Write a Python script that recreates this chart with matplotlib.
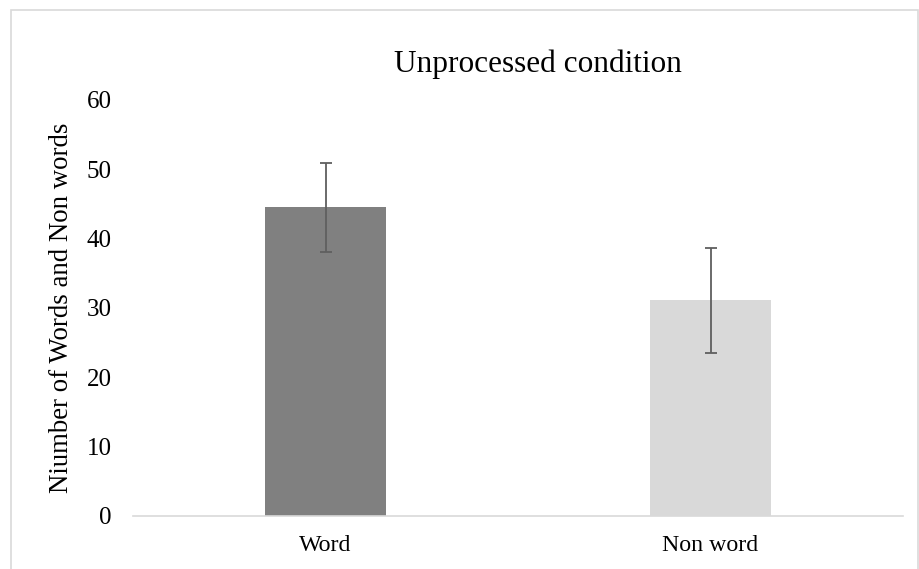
import matplotlib
matplotlib.use("Agg")
import matplotlib.pyplot as plt
from matplotlib.patches import Rectangle

categories = ["Word", "Non word"]
means = [44.5, 31.1]
errors = [6.4, 7.6]
bar_colors = ["#808080", "#d9d9d9"]
y_ticks = [0, 10, 20, 30, 40, 50, 60]

plt.rcParams["font.family"] = ["Liberation Serif", "DejaVu Serif"]

fig = plt.figure(figsize=(9.19, 5.69), dpi=100)
ax = fig.add_axes([133 / 919, 1 - 515.5 / 569, 770 / 919, 415.5 / 569])

x = range(len(categories))
ax.bar(x, means, width=0.315, color=bar_colors, zorder=2)
ax.errorbar(x, means, yerr=errors, fmt="none", ecolor="#5f5f5f",
            elinewidth=1.3, capsize=4.5, capthick=1.3, zorder=3)

ax.set_xlim(-0.5, 1.5)
ax.set_ylim(0, 60)
ax.set_yticks(y_ticks)
ax.set_yticklabels([str(t) for t in y_ticks], fontsize=18)
ax.set_xticks(list(x))
ax.set_xticklabels(categories, fontsize=17.2)
ax.tick_params(axis="both", length=0)
ax.tick_params(axis="y", pad=15.5)
ax.tick_params(axis="x", pad=14)

for side in ["top", "right", "left"]:
    ax.spines[side].set_visible(False)
ax.spines["bottom"].set_color("#d9d9d9")
ax.spines["bottom"].set_linewidth(1.2)

ax.set_ylabel("Niumber of Words and Non words", fontsize=19.3, labelpad=9)
fig.text(538 / 919, 1 - 64 / 569, "Unprocessed condition", fontsize=22.5,
         ha="center", va="center")

# chart-area border
fig.patches.append(Rectangle((11 / 919, -0.05), 907 / 919, 1.05 - 10 / 569,
                             transform=fig.transFigure, fill=False,
                             edgecolor="#d9d9d9", linewidth=1.2))

fig.savefig("out.png", dpi=100)
